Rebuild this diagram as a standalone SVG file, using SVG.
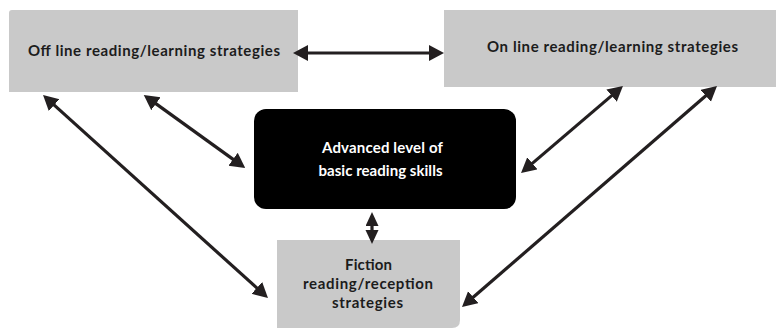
<svg xmlns="http://www.w3.org/2000/svg" width="776" height="330" viewBox="0 0 776 330">
  <style>
    .box { fill: #c9c9c9; }
    .dark { fill: #000000; }
    .lbl { font-family: Lato, "Liberation Sans", Arial, sans-serif; font-weight: bold; font-size: 15px; fill: #1c1c1c; text-anchor: middle; }
    .lbl-w { fill: #ffffff; }
    .conn line { stroke: #231f20; stroke-width: 3.2; fill: none; marker-start: url(#head); marker-end: url(#head); }
    .conn line.short { marker-start: url(#headSm); marker-end: url(#headSm); }
  </style>
  <defs>
    <marker id="head" markerUnits="userSpaceOnUse" markerWidth="16" markerHeight="17" refX="4" refY="8" orient="auto-start-reverse">
      <path d="M0,0 L15,8 L0,16 Z" fill="#231f20"/>
    </marker>
    <marker id="headSm" markerUnits="userSpaceOnUse" markerWidth="15" markerHeight="14" refX="0" refY="6.5" orient="auto-start-reverse">
      <path d="M0,0 L14,6.5 L0,13 Z" fill="#231f20"/>
    </marker>
  </defs>

  <rect width="776" height="330" fill="#ffffff"/>

  <g id="offline">
    <path class="box" d="M12,10 H298 V92 H9 V13 Q9,10 12,10 Z"/>
    <text class="lbl" x="154" y="56" textLength="252" lengthAdjust="spacing">Off line reading/learning strategies</text>
  </g>

  <g id="online">
    <rect class="box" x="444" y="10" width="332" height="77"/>
    <text class="lbl" x="612.5" y="52" textLength="251" lengthAdjust="spacing">On line reading/learning strategies</text>
  </g>

  <g id="basic-skills">
    <rect class="dark" x="254" y="109" width="262" height="100" rx="12" ry="12"/>
    <text class="lbl lbl-w" x="382.5" y="153" textLength="121" lengthAdjust="spacing">Advanced level of</text>
    <text class="lbl lbl-w" x="380.5" y="176" textLength="124" lengthAdjust="spacing">basic reading skills</text>
  </g>

  <g id="fiction">
    <path class="box" d="M277,240 H460 V320 Q460,328 452,328 H277 Z"/>
    <text class="lbl" x="368.5" y="270" textLength="47" lengthAdjust="spacing">Fiction</text>
    <text class="lbl" x="368" y="289" textLength="130" lengthAdjust="spacing">reading/reception</text>
    <text class="lbl" x="367.5" y="308" textLength="71" lengthAdjust="spacing">strategies</text>
  </g>

  <g id="connectors" class="conn">
    <line x1="304" y1="53" x2="433" y2="53"/>
    <line x1="51.2" y1="102.4" x2="259.8" y2="290.6"/>
    <line x1="152.7" y1="101.4" x2="236.3" y2="161.6"/>
    <line x1="614.6" y1="93.1" x2="529.4" y2="165.9"/>
    <line x1="708.7" y1="93.2" x2="470.3" y2="299.8"/>
    <line class="short" x1="372" y1="226" x2="372" y2="230"/>
  </g>
</svg>
